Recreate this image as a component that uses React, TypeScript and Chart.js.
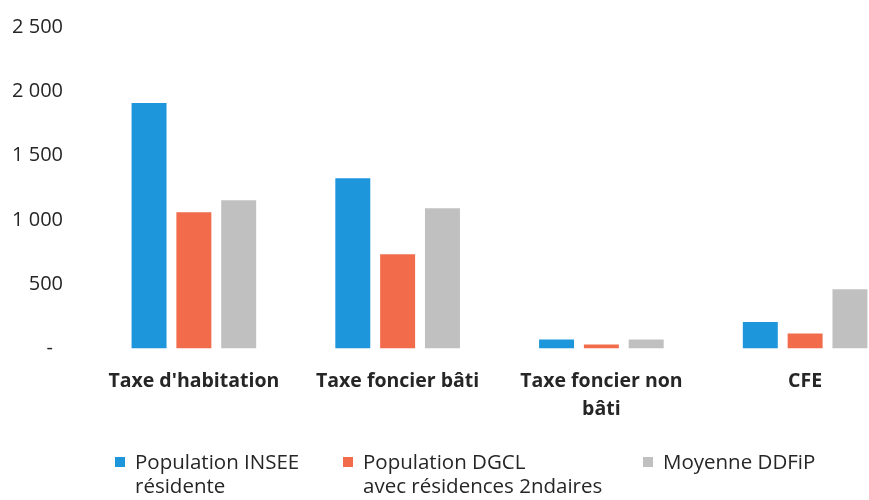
import React, { useEffect, useRef } from "react";
import { Chart, registerables } from "chart.js";

Chart.register(...registerables);

// Categories (multi-line labels as arrays)
const categories: (string | string[])[] = [
  "Taxe d'habitation",
  "Taxe foncier bâti",
  ["Taxe foncier non", "bâti"],
  "CFE",
];

// Series values
const inseeValues = [1908, 1324, 70, 205];
const dgclValues = [1059, 732, 31, 117];
const ddfipValues = [1153, 1090, 70, 460];

// Legend labels, one entry per line
const seriesLabels: string[][] = [
  ["Population INSEE", "résidente"],
  ["Population DGCL", "avec résidences 2ndaires"],
  ["Moyenne DDFiP"],
];

const seriesColors = ["#1e96dc", "#f26c4b", "#c0c0c0"];

// Y axis ticks
const yMax = 2500;
const yStep = 500;

const FONT = "'Open Sans', sans-serif";

// Legend below the plot, items laid out in fixed columns, wrapped labels
const legendItemX = [115, 343, 643];
const legendFirstBaseline = 469;
const legendLineGap = 24;
const legendBox = 10;

const multiLineLegend = {
  id: "multiLineLegend",
  afterDraw(chart: Chart) {
    const ctx = chart.ctx;
    ctx.save();
    ctx.font = `20.5px ${FONT}`;
    ctx.textBaseline = "alphabetic";
    ctx.textAlign = "left";
    chart.data.datasets.forEach((ds, i) => {
      const x = legendItemX[i];
      ctx.fillStyle = ds.backgroundColor as string;
      ctx.fillRect(x, legendFirstBaseline - 12, legendBox, legendBox);
      ctx.fillStyle = "#262626";
      seriesLabels[i].forEach((line, j) => {
        ctx.fillText(line, x + 20, legendFirstBaseline + j * legendLineGap);
      });
    });
    ctx.restore();
  },
};

function formatTick(v: number): string {
  if (v === 0) return "-\u2002";
  return String(v).replace(/\B(?=(\d{3})+(?!\d))/g, " ");
}

export default function App() {
  const canvasRef = useRef<HTMLCanvasElement | null>(null);

  useEffect(() => {
    if (!canvasRef.current) return;
    const chart = new Chart(canvasRef.current, {
      type: "bar",
      data: {
        labels: categories,
        datasets: [
          { label: seriesLabels[0].join(" "), data: inseeValues, backgroundColor: seriesColors[0] },
          { label: seriesLabels[1].join(" "), data: dgclValues, backgroundColor: seriesColors[1] },
          { label: seriesLabels[2].join(" "), data: ddfipValues, backgroundColor: seriesColors[2] },
        ],
      },
      options: {
        responsive: false,
        animation: false,
        layout: { padding: { top: 27, right: 13, bottom: 57, left: 0 } },
        datasets: {
          bar: { categoryPercentage: 0.66, barPercentage: 0.78 },
        },
        plugins: {
          legend: { display: false },
          tooltip: { enabled: false },
        },
        scales: {
          x: {
            grid: { display: false, drawTicks: false },
            border: { display: false },
            ticks: {
              maxRotation: 0,
              minRotation: 0,
              autoSkip: false,
              padding: 19,
              color: "#262626",
              font: { family: FONT, size: 19.5, weight: "bold", lineHeight: 1.45 },
            },
          },
          y: {
            min: 0,
            max: yMax,
            grid: { display: false, drawTicks: false },
            border: { display: false },
            afterFit(scale: any) {
              scale.width = 92;
              scale.paddingTop = 0;
              scale.paddingBottom = 0;
            },
            ticks: {
              stepSize: yStep,
              padding: 29,
              color: "#262626",
              font: { family: FONT, size: 20 },
              callback: (v: any) => formatTick(Number(v)),
            },
          },
        },
      },
      plugins: [multiLineLegend],
    });
    return () => chart.destroy();
  }, []);

  return (
    <div
      style={{
        position: "fixed",
        left: 0,
        top: 0,
        width: 869,
        height: 500,
        overflow: "hidden",
        background: "#ffffff",
      }}
    >
      <canvas ref={canvasRef} width={920} height={500} style={{ width: 920, height: 500 }} />
    </div>
  );
}
